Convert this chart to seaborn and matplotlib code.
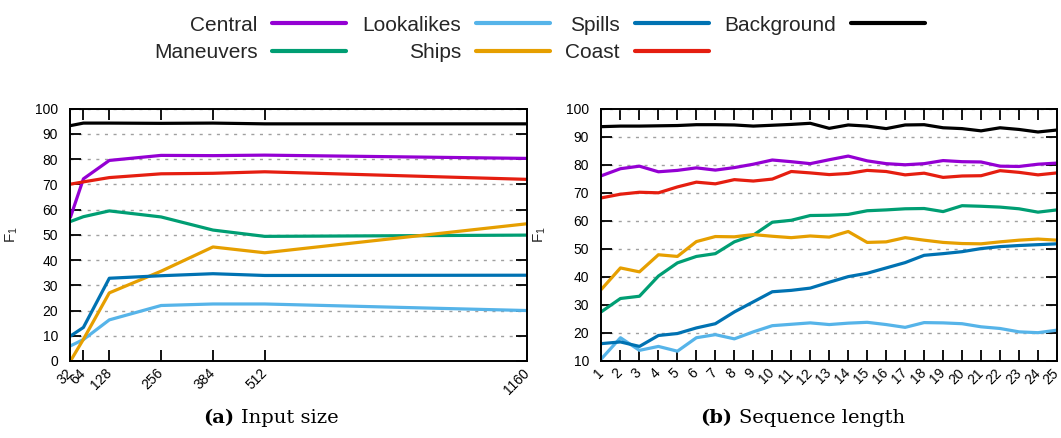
import matplotlib
matplotlib.use("Agg")
import matplotlib.pyplot as plt
from matplotlib.lines import Line2D
from matplotlib.offsetbox import TextArea, HPacker, AnchoredOffsetbox
import numpy as np
import pandas as pd
import seaborn as sns

# ---- data -------------------------------------------------------------
classes = ["Central", "Maneuvers", "Lookalikes", "Ships", "Spills", "Coast", "Background"]
colors = ["#9400d3", "#009e73", "#56b4e9", "#e69f00", "#0072b2", "#e51e10", "#000000"]

input_sizes = [32, 64, 128, 256, 384, 512, 1160]
size_central = [57.0, 72.2, 79.5, 81.5, 81.4, 81.6, 80.3]
size_maneuvers = [55.3, 57.2, 59.5, 57.1, 51.9, 49.4, 49.9]
size_lookalikes = [6.0, 8.5, 16.3, 22.0, 22.6, 22.6, 20.0]
size_ships = [0.0, 8.6, 27.0, 35.6, 45.2, 42.9, 54.4]
size_spills = [9.9, 13.3, 32.8, 33.8, 34.6, 33.9, 34.0]
size_coast = [70.1, 71.0, 72.7, 74.2, 74.4, 75.0, 72.0]
size_background = [93.3, 94.3, 94.3, 94.2, 94.3, 94.0, 94.0]

seq_lengths = list(range(1, 26))
seq_central = [76.1, 78.6, 79.5, 77.5, 78.0, 78.9, 78.1, 79.0, 80.2, 81.7, 81.1, 80.4, 81.8,
               83.1, 81.4, 80.4, 80.0, 80.4, 81.5, 81.1, 81.0, 79.5, 79.4, 80.2, 80.6]
seq_maneuvers = [27.6, 32.3, 33.1, 40.3, 45.0, 47.3, 48.3, 52.5, 54.9, 59.5, 60.2, 61.9, 62.0,
                 62.3, 63.6, 63.9, 64.3, 64.4, 63.3, 65.4, 65.2, 64.9, 64.3, 63.1, 63.9]
seq_lookalikes = [10.8, 18.3, 13.8, 15.2, 13.5, 18.3, 19.4, 17.9, 20.4, 22.6, 23.1, 23.6, 23.0,
                  23.5, 23.8, 23.0, 22.0, 23.7, 23.6, 23.3, 22.2, 21.6, 20.4, 20.1, 21.0]
seq_ships = [35.6, 43.2, 41.8, 47.9, 47.3, 52.6, 54.4, 54.3, 55.1, 54.5, 54.0, 54.6, 54.2,
             56.2, 52.3, 52.5, 54.0, 53.1, 52.3, 51.9, 51.8, 52.5, 53.1, 53.5, 53.1]
seq_spills = [16.2, 16.8, 15.2, 19.1, 19.8, 21.8, 23.3, 27.5, 31.1, 34.7, 35.2, 36.0, 38.1,
              40.1, 41.3, 43.2, 45.1, 47.7, 48.3, 49.0, 50.1, 50.8, 51.2, 51.5, 51.8]
seq_coast = [68.2, 69.5, 70.2, 70.0, 72.1, 73.8, 73.2, 74.7, 74.2, 74.9, 77.6, 77.1, 76.5,
             76.9, 78.0, 77.6, 76.4, 77.0, 75.5, 76.0, 76.1, 77.9, 77.3, 76.4, 77.1]
seq_background = [93.6, 93.8, 93.8, 93.9, 94.0, 94.3, 94.3, 94.2, 93.8, 94.1, 94.4, 94.8, 93.0,
                  94.2, 93.8, 92.9, 94.2, 94.3, 93.2, 92.9, 92.1, 93.2, 92.6, 91.7, 92.4]

size_series = [size_central, size_maneuvers, size_lookalikes, size_ships,
               size_spills, size_coast, size_background]
seq_series = [seq_central, seq_maneuvers, seq_lookalikes, seq_ships,
              seq_spills, seq_coast, seq_background]


def long_frame(xs, series):
    rows = []
    for name, vals in zip(classes, series):
        for x, v in zip(xs, vals):
            rows.append((name, x, v))
    return pd.DataFrame(rows, columns=["cls", "x", "f1"])


df_size = long_frame(input_sizes, size_series)
df_seq = long_frame(seq_lengths, seq_series)

# ---- style ------------------------------------------------------------
sns.set_theme(style="white")
plt.rcParams["font.family"] = ["Liberation Sans", "DejaVu Sans"]
plt.rcParams["mathtext.default"] = "regular"
plt.rcParams["axes.edgecolor"] = "black"

palette = dict(zip(classes, colors))

fig = plt.figure(figsize=(10.61, 4.38), dpi=100)
ax1 = fig.add_axes([0.0664, 0.1758, 0.4303, 0.576])
ax2 = fig.add_axes([0.5669, 0.1758, 0.4293, 0.576])


def draw(ax, df, xticks, ylim, ylabel_x):
    sns.lineplot(data=df, x="x", y="f1", hue="cls", hue_order=classes,
                 palette=palette, ax=ax, legend=False, linewidth=2.3,
                 errorbar=None)
    ax.set_xlim(xticks[0], xticks[-1])
    ax.set_ylim(*ylim)
    ax.set_xticks(xticks)
    ax.set_xticklabels([str(t) for t in xticks])
    ax.set_yticks(np.arange(ylim[0], ylim[1] + 1, 10))
    ax.set_xlabel("")
    ax.set_ylabel("F$_1$", fontsize=11)
    ax.yaxis.set_label_coords(ylabel_x, 0.5)
    ax.tick_params(axis="both", which="major", direction="in", length=8,
                   width=1.3, color="black", top=True, bottom=True,
                   left=True, right=True, labelsize=10, labelcolor="black")
    ax.tick_params(axis="y", pad=9)
    ax.tick_params(axis="x", pad=7)
    for lab in ax.get_xticklabels():
        lab.set_rotation(45)
        lab.set_ha("right")
        lab.set_va("center")
        lab.set_rotation_mode("anchor")
    ax.yaxis.grid(True, color="#a0a0a0", linestyle=(0, (2.2, 4)), linewidth=1)
    ax.xaxis.grid(False)
    ax.set_axisbelow(True)
    for sp in ax.spines.values():
        sp.set_visible(True)
        sp.set_color("black")
        sp.set_linewidth(1.4)


draw(ax1, df_size, input_sizes, (0, 100), -0.11)
draw(ax2, df_seq, seq_lengths, (10, 100), -0.117)

# ---- legend -------------------------------------------------------------
handles = [Line2D([], [], color=c, linewidth=3.0) for c in colors]
fig.legend(handles, classes, ncol=4, markerfirst=False, frameon=False,
           loc="center", bbox_to_anchor=(0.5085, 0.911), fontsize=15,
           handlelength=3.55, handletextpad=0.72, columnspacing=0.75,
           labelspacing=0.42, borderpad=0)

# ---- sub-captions ----------------------------------------------------------
def caption(tag, text, xc, yc):
    bold = TextArea(tag, textprops=dict(family="DejaVu Serif", weight="bold",
                                        size=14, color="black"))
    normal = TextArea(text, textprops=dict(family="DejaVu Serif", size=14,
                                           color="black"))
    box = HPacker(children=[bold, normal], sep=5, align="baseline", pad=0)
    anchored = AnchoredOffsetbox(loc="center", child=box, pad=0, borderpad=0,
                                 frameon=False, bbox_to_anchor=(xc, yc),
                                 bbox_transform=fig.transFigure)
    fig.add_artist(anchored)


caption("(a)", "Input size", 271 / 1061, 1 - 418 / 438)
caption("(b)", "Sequence length", 803 / 1061, 1 - 418 / 438)

fig.savefig("out.png", dpi=100)
